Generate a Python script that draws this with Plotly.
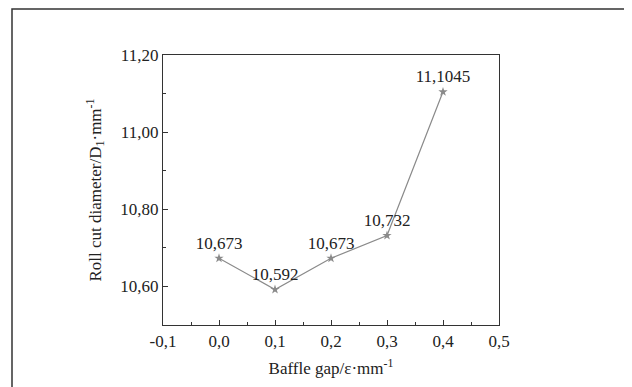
import plotly.graph_objects as go

baffle_gap = [0.0, 0.1, 0.2, 0.3, 0.4]
roll_cut_diameter = [10.673, 10.592, 10.673, 10.732, 11.1045]
point_labels = ["10,673", "10,592", "10,673", "10,732", "11,1045"]
x_tick_values = [-0.1, 0.0, 0.1, 0.2, 0.3, 0.4, 0.5]
x_tick_labels = ["-0,1", "0,0", "0,1", "0,2", "0,3", "0,4", "0,5"]

FONT = "'Times New Roman', 'Liberation Serif', 'DejaVu Serif', serif"
# page body has an 8px margin, so the figure starts at (8, 8)
OFF = 8
W, H = 632 - OFF, 387 - OFF
L, R, T, B = 163 - OFF, 133, 55 - OFF, 62
pw, ph = W - L - R, H - T - B

fig = go.Figure()
fig.add_trace(go.Scatter(
    x=baffle_gap, y=roll_cut_diameter,
    mode="lines+markers+text",
    line=dict(color="#8a8a8a", width=1.2),
    marker=dict(symbol="star", size=7, color="#8a8a8a"),
    text=point_labels, textposition="top center",
    textfont=dict(family=FONT, size=17, color="#222"),
    showlegend=False,
))

axis_common = dict(
    showline=True, linecolor="#333", linewidth=1.3, mirror=True,
    ticks="inside", ticklen=5, tickcolor="#333", tickwidth=1,
    showgrid=False, zeroline=False,
    tickfont=dict(family=FONT, size=17, color="#222"),
)

fig.update_xaxes(
    range=[-0.1, 0.5], tickmode="array", tickvals=x_tick_values, ticktext=x_tick_labels,
    minor=dict(dtick=0.05, tick0=0, ticks="inside", ticklen=3, tickcolor="#333"),
    title=dict(text="Baffle gap/ε·mm<sup>-1</sup>", font=dict(family=FONT, size=17, color="#222"), standoff=12),
    **axis_common,
)
fig.update_yaxes(
    range=[10.5, 11.2], dtick=0.2, tick0=10.6, tickformat=".2f",
    minor=dict(dtick=0.1, ticks="inside", ticklen=3, tickcolor="#333"),
    title=dict(text="Roll cut diameter/D<sub>1</sub>·mm<sup>-1</sup>", font=dict(family=FONT, size=17, color="#222"), standoff=14),
    **axis_common,
)

# outer frame
fig.add_shape(type="rect", xref="paper", yref="paper",
              x0=(12 - 163) / pw, x1=(630.5 - 163) / pw,
              y0=-0.4, y1=(325 - 9) / ph,
              line=dict(color="#333", width=1.5), layer="below")

fig.update_layout(
    width=W, height=H,
    margin=dict(l=L, r=R, t=T, b=B),
    paper_bgcolor="white", plot_bgcolor="white",
    separators=", ",
    font=dict(family=FONT, size=17, color="#222"),
)

fig.write_html("out.html")
